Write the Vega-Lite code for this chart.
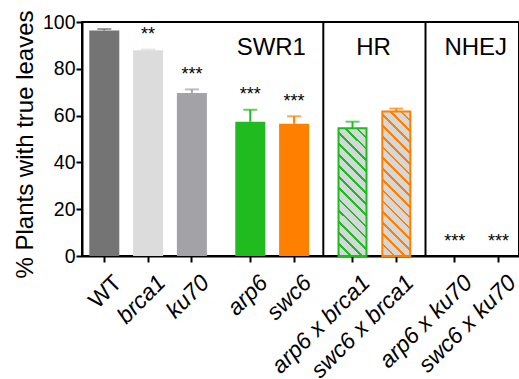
{
  "$schema": "https://vega.github.io/schema/vega-lite/v6.json",
  "autosize": "none",
  "padding": {"left": 82, "top": 22, "right": 0, "bottom": 123},
  "width": 437,
  "height": 234,
  "config": {
    "font": "Liberation Sans",
    "view": {"stroke": "black", "strokeWidth": 2},
    "axisY": {
      "titleFontSize": 24,
      "titleFontWeight": "normal",
      "titleColor": "black",
      "titlePadding": 5,
      "titleY": 122,
      "grid": false,
      "labelFontSize": 19.5,
      "labelColor": "black",
      "labelPadding": 1,
      "domainColor": "black",
      "domainWidth": 2,
      "tickColor": "black",
      "tickWidth": 2,
      "tickSize": 6
    }
  },
  "data": {
    "values": [
      {"genotype": "WT", "mean": 96.4, "upper": 97.0, "stars": ""},
      {"genotype": "brca1", "mean": 87.9, "upper": 88.2, "stars": "**"},
      {"genotype": "ku70", "mean": 69.7, "upper": 71.2, "stars": "***"},
      {"genotype": "arp6", "mean": 57.4, "upper": 62.5, "stars": "***"},
      {"genotype": "swc6", "mean": 56.5, "upper": 59.7, "stars": "***"},
      {"genotype": "arp6 x brca1", "mean": 54.6, "upper": 57.4, "stars": ""},
      {"genotype": "swc6 x brca1", "mean": 61.8, "upper": 63.0, "stars": ""},
      {"genotype": "arp6 x ku70", "mean": 0, "upper": 0, "stars": "***"},
      {"genotype": "swc6 x ku70", "mean": 0, "upper": 0, "stars": "***"}
    ]
  },
  "encoding": {
    "x": {
      "field": "genotype",
      "type": "nominal",
      "scale": {
        "domain": ["WT", "_1", "_2", "brca1", "_4", "_5", "ku70", "_7", "_8", "_9", "arp6", "_11", "_12", "swc6", "_14", "_15", "_16", "arp6 x brca1", "_18", "_19", "swc6 x brca1", "_21", "_22", "_23", "arp6 x ku70", "_25", "_26", "swc6 x ku70"],
        "paddingInner": 0,
        "paddingOuter": 0.965,
        "align": 0.532
      },
      "axis": {
        "title": null,
        "values": ["WT", "brca1", "ku70", "arp6", "swc6", "arp6 x brca1", "swc6 x brca1", "arp6 x ku70", "swc6 x ku70"],
        "labelAngle": -45,
        "labelFontSize": 23,
        "labelColor": "black",
        "labelPadding": 9,
        "labelOffset": 6,
        "labelFontStyle": {"condition": {"test": "datum.value === 'WT'", "value": "normal"}, "value": "italic"},
        "domainColor": "black",
        "domainWidth": 2,
        "tickColor": "black",
        "tickWidth": 2,
        "tickSize": 6
      }
    }
  },
  "layer": [
    {
      "transform": [{"filter": "indexof(['WT','brca1','ku70','arp6','swc6','arp6 x ku70','swc6 x ku70'], datum.genotype) >= 0"}],
      "mark": {"type": "bar", "width": 30},
      "encoding": {
        "y": {
          "field": "mean",
          "type": "quantitative",
          "title": "% Plants with true leaves",
          "scale": {"domain": [0, 100], "nice": false},
          "axis": {"values": [0, 20, 40, 60, 80, 100]}
        },
        "color": {
          "field": "genotype",
          "type": "nominal",
          "legend": null,
          "scale": {
            "domain": ["WT", "brca1", "ku70", "arp6", "swc6", "arp6 x brca1", "swc6 x brca1", "arp6 x ku70", "swc6 x ku70"],
            "range": ["#747474", "#dcdcdc", "#a2a2a7", "#1fbb1f", "#ff8000", "#1fbb1f", "#ff8000", "#1fbb1f", "#ff8000"]
          }
        }
      }
    },
    {
      "transform": [{"filter": "datum.genotype === 'arp6 x brca1'"}],
      "mark": {
        "type": "bar",
        "width": 28,
        "stroke": "#1fbb1f",
        "strokeWidth": 2,
        "fill": {
          "gradient": "linear",
          "x1": 0, "y1": 1, "x2": 0.2544, "y2": -0.1631,
          "stops": [
            {"offset": 0, "color": "#1fbb1f"}, {"offset": 0.0179, "color": "#1fbb1f"}, {"offset": 0.0179, "color": "#d5d8da"}, {"offset": 0.0714, "color": "#d5d8da"},
            {"offset": 0.0714, "color": "#1fbb1f"}, {"offset": 0.0893, "color": "#1fbb1f"}, {"offset": 0.0893, "color": "#d5d8da"}, {"offset": 0.1429, "color": "#d5d8da"},
            {"offset": 0.1429, "color": "#1fbb1f"}, {"offset": 0.1607, "color": "#1fbb1f"}, {"offset": 0.1607, "color": "#d5d8da"}, {"offset": 0.2143, "color": "#d5d8da"},
            {"offset": 0.2143, "color": "#1fbb1f"}, {"offset": 0.2321, "color": "#1fbb1f"}, {"offset": 0.2321, "color": "#d5d8da"}, {"offset": 0.2857, "color": "#d5d8da"},
            {"offset": 0.2857, "color": "#1fbb1f"}, {"offset": 0.3036, "color": "#1fbb1f"}, {"offset": 0.3036, "color": "#d5d8da"}, {"offset": 0.3571, "color": "#d5d8da"},
            {"offset": 0.3571, "color": "#1fbb1f"}, {"offset": 0.375, "color": "#1fbb1f"}, {"offset": 0.375, "color": "#d5d8da"}, {"offset": 0.4286, "color": "#d5d8da"},
            {"offset": 0.4286, "color": "#1fbb1f"}, {"offset": 0.4464, "color": "#1fbb1f"}, {"offset": 0.4464, "color": "#d5d8da"}, {"offset": 0.5, "color": "#d5d8da"},
            {"offset": 0.5, "color": "#1fbb1f"}, {"offset": 0.5179, "color": "#1fbb1f"}, {"offset": 0.5179, "color": "#d5d8da"}, {"offset": 0.5714, "color": "#d5d8da"},
            {"offset": 0.5714, "color": "#1fbb1f"}, {"offset": 0.5893, "color": "#1fbb1f"}, {"offset": 0.5893, "color": "#d5d8da"}, {"offset": 0.6429, "color": "#d5d8da"},
            {"offset": 0.6429, "color": "#1fbb1f"}, {"offset": 0.6607, "color": "#1fbb1f"}, {"offset": 0.6607, "color": "#d5d8da"}, {"offset": 0.7143, "color": "#d5d8da"},
            {"offset": 0.7143, "color": "#1fbb1f"}, {"offset": 0.7321, "color": "#1fbb1f"}, {"offset": 0.7321, "color": "#d5d8da"}, {"offset": 0.7857, "color": "#d5d8da"},
            {"offset": 0.7857, "color": "#1fbb1f"}, {"offset": 0.8036, "color": "#1fbb1f"}, {"offset": 0.8036, "color": "#d5d8da"}, {"offset": 0.8571, "color": "#d5d8da"},
            {"offset": 0.8571, "color": "#1fbb1f"}, {"offset": 0.875, "color": "#1fbb1f"}, {"offset": 0.875, "color": "#d5d8da"}, {"offset": 0.9286, "color": "#d5d8da"},
            {"offset": 0.9286, "color": "#1fbb1f"}, {"offset": 0.9464, "color": "#1fbb1f"}, {"offset": 0.9464, "color": "#d5d8da"}, {"offset": 1, "color": "#d5d8da"}
          ]
        }
      },
      "encoding": {
        "y": {"field": "mean", "type": "quantitative", "title": "% Plants with true leaves"}
      }
    },
    {
      "transform": [{"filter": "datum.genotype === 'swc6 x brca1'"}],
      "mark": {
        "type": "bar",
        "width": 28,
        "stroke": "#ff8000",
        "strokeWidth": 2,
        "fill": {
          "gradient": "linear",
          "x1": 0, "y1": 1, "x2": 0.2228, "y2": -0.1505,
          "stops": [
            {"offset": 0, "color": "#ff8000"}, {"offset": 0.0156, "color": "#ff8000"}, {"offset": 0.0156, "color": "#d5d8da"}, {"offset": 0.0625, "color": "#d5d8da"},
            {"offset": 0.0625, "color": "#ff8000"}, {"offset": 0.0781, "color": "#ff8000"}, {"offset": 0.0781, "color": "#d5d8da"}, {"offset": 0.125, "color": "#d5d8da"},
            {"offset": 0.125, "color": "#ff8000"}, {"offset": 0.1406, "color": "#ff8000"}, {"offset": 0.1406, "color": "#d5d8da"}, {"offset": 0.1875, "color": "#d5d8da"},
            {"offset": 0.1875, "color": "#ff8000"}, {"offset": 0.2031, "color": "#ff8000"}, {"offset": 0.2031, "color": "#d5d8da"}, {"offset": 0.25, "color": "#d5d8da"},
            {"offset": 0.25, "color": "#ff8000"}, {"offset": 0.2656, "color": "#ff8000"}, {"offset": 0.2656, "color": "#d5d8da"}, {"offset": 0.3125, "color": "#d5d8da"},
            {"offset": 0.3125, "color": "#ff8000"}, {"offset": 0.3281, "color": "#ff8000"}, {"offset": 0.3281, "color": "#d5d8da"}, {"offset": 0.375, "color": "#d5d8da"},
            {"offset": 0.375, "color": "#ff8000"}, {"offset": 0.3906, "color": "#ff8000"}, {"offset": 0.3906, "color": "#d5d8da"}, {"offset": 0.4375, "color": "#d5d8da"},
            {"offset": 0.4375, "color": "#ff8000"}, {"offset": 0.4531, "color": "#ff8000"}, {"offset": 0.4531, "color": "#d5d8da"}, {"offset": 0.5, "color": "#d5d8da"},
            {"offset": 0.5, "color": "#ff8000"}, {"offset": 0.5156, "color": "#ff8000"}, {"offset": 0.5156, "color": "#d5d8da"}, {"offset": 0.5625, "color": "#d5d8da"},
            {"offset": 0.5625, "color": "#ff8000"}, {"offset": 0.5781, "color": "#ff8000"}, {"offset": 0.5781, "color": "#d5d8da"}, {"offset": 0.625, "color": "#d5d8da"},
            {"offset": 0.625, "color": "#ff8000"}, {"offset": 0.6406, "color": "#ff8000"}, {"offset": 0.6406, "color": "#d5d8da"}, {"offset": 0.6875, "color": "#d5d8da"},
            {"offset": 0.6875, "color": "#ff8000"}, {"offset": 0.7031, "color": "#ff8000"}, {"offset": 0.7031, "color": "#d5d8da"}, {"offset": 0.75, "color": "#d5d8da"},
            {"offset": 0.75, "color": "#ff8000"}, {"offset": 0.7656, "color": "#ff8000"}, {"offset": 0.7656, "color": "#d5d8da"}, {"offset": 0.8125, "color": "#d5d8da"},
            {"offset": 0.8125, "color": "#ff8000"}, {"offset": 0.8281, "color": "#ff8000"}, {"offset": 0.8281, "color": "#d5d8da"}, {"offset": 0.875, "color": "#d5d8da"},
            {"offset": 0.875, "color": "#ff8000"}, {"offset": 0.8906, "color": "#ff8000"}, {"offset": 0.8906, "color": "#d5d8da"}, {"offset": 0.9375, "color": "#d5d8da"},
            {"offset": 0.9375, "color": "#ff8000"}, {"offset": 0.9531, "color": "#ff8000"}, {"offset": 0.9531, "color": "#d5d8da"}, {"offset": 1, "color": "#d5d8da"}
          ]
        }
      },
      "encoding": {
        "y": {"field": "mean", "type": "quantitative", "title": "% Plants with true leaves"}
      }
    },
    {
      "transform": [{"filter": "datum.upper > datum.mean"}],
      "mark": {"type": "rule", "strokeWidth": 2},
      "encoding": {
        "y": {"field": "mean", "type": "quantitative", "title": "% Plants with true leaves"},
        "y2": {"field": "upper"},
        "color": {"field": "genotype", "type": "nominal", "legend": null}
      }
    },
    {
      "transform": [{"filter": "datum.upper > datum.mean"}],
      "mark": {"type": "tick", "orient": "horizontal", "size": 14, "thickness": 2},
      "encoding": {
        "y": {"field": "upper", "type": "quantitative", "title": "% Plants with true leaves"},
        "color": {"field": "genotype", "type": "nominal", "legend": null}
      }
    },
    {
      "transform": [{"filter": "datum.stars !== ''"}],
      "mark": {"type": "text", "fontSize": 18, "baseline": "alphabetic", "dy": -9.5, "color": "black"},
      "encoding": {
        "y": {"field": "upper", "type": "quantitative", "title": "% Plants with true leaves"},
        "text": {"field": "stars"}
      }
    },
    {
      "data": {"values": [{"genotype": "_15"}, {"genotype": "_22"}]},
      "mark": {"type": "rule", "color": "black", "strokeWidth": 2},
      "encoding": {}
    },
    {
      "data": {"values": [{"genotype": "arp6", "group": "SWR1"}, {"genotype": "arp6 x brca1", "group": "HR"}, {"genotype": "arp6 x ku70", "group": "NHEJ"}]},
      "mark": {"type": "text", "fontSize": 24, "baseline": "alphabetic", "dx": 21, "color": "black"},
      "encoding": {
        "y": {"datum": 86, "type": "quantitative", "title": "% Plants with true leaves"},
        "text": {"field": "group"}
      }
    }
  ]
}
